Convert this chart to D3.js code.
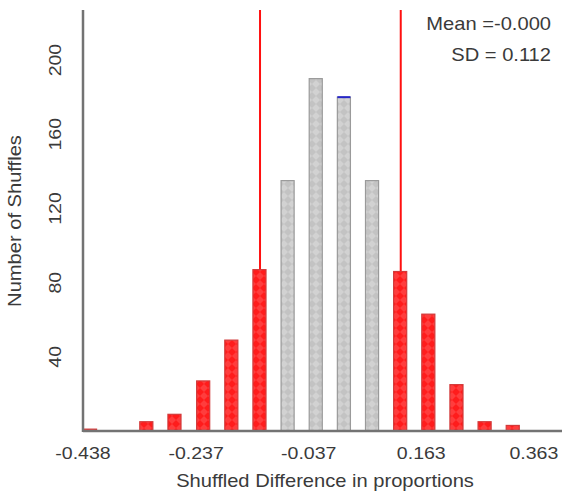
<!DOCTYPE html>
<html>
<head>
<meta charset="utf-8">
<script src="https://cdn.jsdelivr.net/npm/d3@7"></script>
<style>
  body { margin: 0; background: #fff; }
  text { font-family: "Liberation Sans", Arial, sans-serif; fill: #3a3a3a; }
</style>
</head>
<body>
<div id="chart"></div>
<script>
// shuffled differences histogram

const binStarts = [-0.438, -0.388, -0.338, -0.288, -0.237, -0.187, -0.137, -0.087,
                   -0.037, 0.013, 0.063, 0.113, 0.163, 0.213, 0.263, 0.313];
const counts = [1, 0, 5, 9, 27, 49, 87, 135, 190, 180, 135, 86, 63, 25, 5, 3];
const xTicks = [-0.438, -0.237, -0.037, 0.163, 0.363];
const yTicks = [40, 80, 120, 160, 200];
const cutoffs = [-0.1235, 0.1265];   // red lines
const markedBin = 0.013;              // bar with the blue top
const statLines = ["Mean =-0.000", "SD = 0.112"];
const xTitle = "Shuffled Difference in proportions";
const yTitle = "Number of Shuffles";

const width = 562, height = 497;
const plotLeft = 83, plotRight = 562, plotTop = 10, plotBottom = 431;

const svg = d3.select("#chart").append("svg")
    .attr("width", width)
    .attr("height", height);

const x = d3.scaleLinear().domain([-0.438, 0.413]).range([plotLeft, plotRight]);
const y = d3.scaleLinear().domain([0, 227]).range([plotBottom, plotTop]);

const binWidth = binStarts[1] - binStarts[0];

// diamond patterns for the bars
const defs = svg.append("defs");
function makePattern(id, base, light) {
    const p = defs.append("pattern")
        .attr("id", id)
        .attr("patternUnits", "userSpaceOnUse")
        .attr("width", 8).attr("height", 8);
    p.append("rect").attr("width", 8).attr("height", 8).attr("fill", base);
    p.append("path").attr("d", "M4,0 L8,4 L4,8 L0,4 Z").attr("fill", light);
}
makePattern("redPat", "#ff1c1c", "#ff3d3d");
makePattern("grayPat", "#c3c3c3", "#d2d2d2");

// text helper, text is a bit stretched sideways in the original
function addText(tx, ty, str, size, anchor, rot) {
    svg.append("text")
        .attr("transform", `translate(${tx},${ty}) rotate(${rot || 0}) scale(1.15,1)`)
        .attr("text-anchor", anchor)
        .style("font-size", size + "px")
        .text(str);
}

// cutoff lines
svg.selectAll("line.cut")
    .data(cutoffs)
    .enter().append("line")
    .attr("class", "cut")
    .attr("x1", d => x(d)).attr("x2", d => x(d))
    .attr("y1", plotTop).attr("y2", plotBottom)
    .style("stroke", "#ff1010")
    .style("stroke-width", 2);

const bars = binStarts.map((s, i) => ({ start: s, count: counts[i] }));
const isTail = d => d.start < cutoffs[0] || d.start + binWidth > cutoffs[1];

svg.selectAll("rect.bar")
    .data(bars.filter(d => d.count > 0))
    .enter().append("rect")
    .attr("class", "bar")
    .attr("x", d => x(d.start) + 0.5)
    .attr("y", d => y(d.count))
    .attr("width", d => x(d.start + binWidth * 0.5) - x(d.start) - 1)
    .attr("height", d => y(0) - y(d.count))
    .attr("fill", d => isTail(d) ? "url(#redPat)" : "url(#grayPat)")
    .style("stroke", d => isTail(d) ? "#d23a3a" : "#9a9a9a")
    .style("stroke-width", 1.2);

// blue mark on top of one bar
const mb = bars.find(d => Math.abs(d.start - markedBin) < 1e-9);
svg.append("line")
    .attr("x1", x(mb.start) + 0.5)
    .attr("x2", x(mb.start + binWidth * 0.5) - 0.5)
    .attr("y1", y(mb.count)).attr("y2", y(mb.count))
    .style("stroke", "#2626c8")
    .style("stroke-width", 2);

// axes lines
svg.append("line")
    .attr("x1", plotLeft).attr("x2", plotLeft)
    .attr("y1", plotTop).attr("y2", plotBottom + 1)
    .style("stroke", "#737373").style("stroke-width", 2.5);
svg.append("line")
    .attr("x1", plotLeft).attr("x2", plotRight)
    .attr("y1", plotBottom).attr("y2", plotBottom)
    .style("stroke", "#737373").style("stroke-width", 2.5);

// tick labels
xTicks.forEach(t => addText(x(t), 459, t.toFixed(3), 17, "middle"));
yTicks.forEach(t => addText(61, y(t), String(t), 17, "middle", -90));

// titles
addText(325, 487, xTitle, 17.5, "middle");
addText(21, 221, yTitle, 17.5, "middle", -90);

// stats box
statLines.forEach((s, i) => addText(551, 30 + i * 31, s, 17.5, "end"));
</script>
</body>
</html>
